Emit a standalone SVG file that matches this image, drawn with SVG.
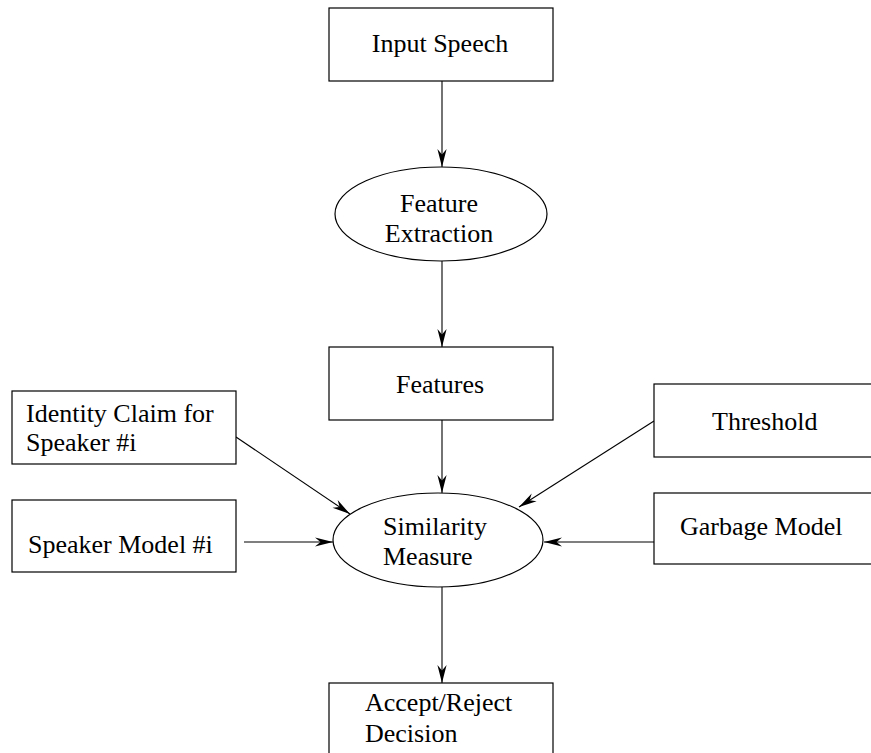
<svg xmlns="http://www.w3.org/2000/svg" width="871" height="753" viewBox="0 0 871 753">
  <style>
    .box { fill: #ffffff; stroke: #000000; stroke-width: 1.2; }
    .oval { fill: #ffffff; stroke: #000000; stroke-width: 1.2; }
    .lbl { font-family: "Liberation Serif", "Times New Roman", serif; font-size: 26px; fill: #000000; }
    .mid { text-anchor: middle; }
    .edge { fill: none; stroke: #000000; stroke-width: 1.1; marker-end: url(#tip); }
  </style>
  <defs>
    <!-- narrow barbed arrowhead, tip at the line end -->
    <marker id="tip" markerUnits="userSpaceOnUse" viewBox="-20 -6 21 12" refX="0" refY="0" markerWidth="21" markerHeight="12" orient="auto">
      <path d="M0,0 L-18,-4.6 L-12.5,0 L-18,4.6 Z" fill="#000000"/>
    </marker>
  </defs>

  <rect width="871" height="753" fill="#ffffff"/>

  <g id="connectors">
    <line class="edge" x1="442" y1="81" x2="442" y2="167"/>
    <line class="edge" x1="442" y1="261" x2="442" y2="347"/>
    <line class="edge" x1="442" y1="420" x2="442" y2="493"/>
    <line class="edge" x1="236" y1="437" x2="350" y2="514"/>
    <line class="edge" x1="244" y1="542" x2="333" y2="542"/>
    <line class="edge" x1="654" y1="421" x2="519" y2="507"/>
    <line class="edge" x1="654" y1="542" x2="544" y2="542"/>
    <line class="edge" x1="442" y1="587" x2="442" y2="683"/>
  </g>

  <g id="input-speech">
    <rect class="box" x="329" y="8" width="224" height="73"/>
    <text class="lbl mid" x="440" y="52">Input Speech</text>
  </g>

  <g id="feature-extraction">
    <ellipse class="oval" cx="441" cy="214" rx="106" ry="47"/>
    <text class="lbl mid" x="439" y="212">Feature</text>
    <text class="lbl mid" x="439" y="242">Extraction</text>
  </g>

  <g id="features">
    <rect class="box" x="329" y="347" width="224" height="73"/>
    <text class="lbl mid" x="440" y="393">Features</text>
  </g>

  <g id="identity-claim">
    <rect class="box" x="12" y="391" width="224" height="73"/>
    <text class="lbl" x="26" y="422">Identity Claim for</text>
    <text class="lbl" x="26" y="451">Speaker #i</text>
  </g>

  <g id="speaker-model">
    <rect class="box" x="12" y="500" width="224" height="72"/>
    <text class="lbl" x="28" y="553">Speaker Model #i</text>
  </g>

  <g id="threshold">
    <rect class="box" x="654" y="384" width="230" height="73"/>
    <text class="lbl" x="712" y="430">Threshold</text>
  </g>

  <g id="garbage-model">
    <rect class="box" x="654" y="493" width="230" height="71"/>
    <text class="lbl" x="680" y="535">Garbage Model</text>
  </g>

  <g id="similarity-measure">
    <ellipse class="oval" cx="438" cy="540" rx="105" ry="47"/>
    <text class="lbl" x="383" y="535">Similarity</text>
    <text class="lbl" x="383" y="565">Measure</text>
  </g>

  <g id="decision">
    <rect class="box" x="329" y="683" width="224" height="90"/>
    <text class="lbl" x="365" y="711">Accept/Reject</text>
    <text class="lbl" x="365" y="742">Decision</text>
  </g>
</svg>
